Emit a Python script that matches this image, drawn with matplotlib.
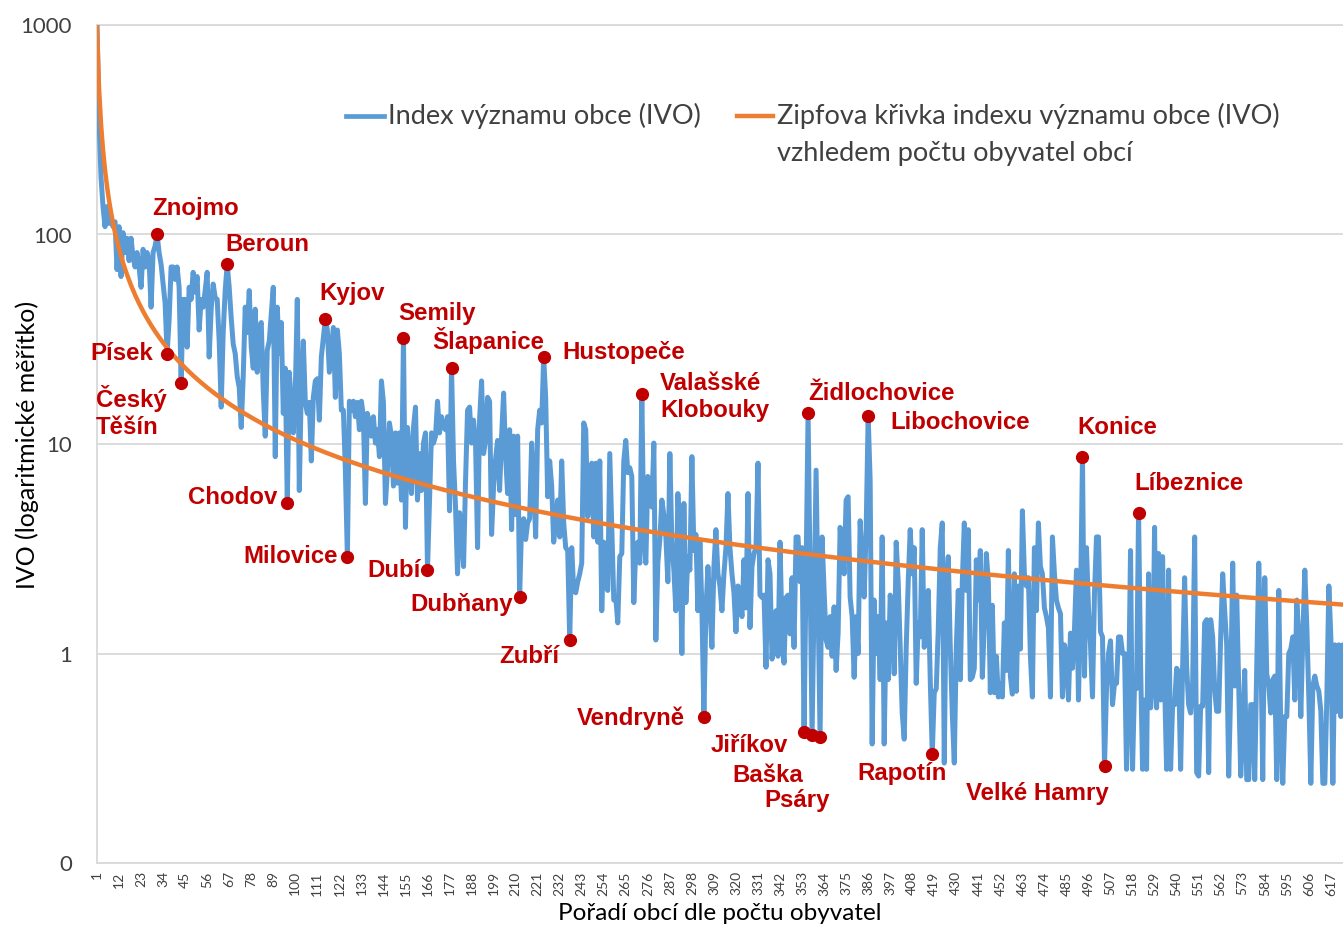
import matplotlib
matplotlib.use('Agg')
import matplotlib.pyplot as plt
from matplotlib.lines import Line2D
from matplotlib.ticker import FixedLocator, NullLocator
import numpy as np

# ---------------- data ----------------
ivo = [
    1000, 352, 188, 136, 109, 136, 113, 117, 109, 115,
    68, 109, 63, 102, 82, 96, 75, 96, 78, 70,
    82, 70, 56, 85, 70, 82, 75, 45, 82, 88,
    100, 82, 72, 58, 47, 27, 39, 70, 70, 61,
    70, 56, 19.5, 49, 49, 29, 56, 49, 66, 53,
    63, 35, 49, 45, 54, 66, 26, 44, 58, 50,
    49, 31, 15, 34, 54, 72, 56, 40, 30, 27,
    21, 18.6, 12, 21, 45, 34, 54, 29, 23, 44,
    22, 36, 38, 18, 10.9, 28, 31, 42, 56, 8.7,
    45, 27, 38, 14, 23, 5.2, 22, 16, 11.3, 18,
    49, 6.0, 18.6, 31, 15.8, 14, 15.8, 8.3, 16.7, 20,
    20.5, 13, 26, 32, 39.5, 35, 22, 28, 36, 16.7,
    35, 27, 14.5, 14.5, 7.5, 2.9, 16, 14.5, 16, 13.5,
    15.8, 11.7, 16, 13.5, 5.2, 14, 12.6, 10.9, 13.5, 10.1,
    11.7, 8.7, 20, 15.8, 5.2, 7.5, 12.6, 10.9, 6.3, 11.3,
    6.5, 11.3, 5.4, 32, 4.0, 12, 9.0, 5.8, 12, 15,
    5.4, 9.0, 6.0, 10.1, 11.3, 2.5, 5.4, 11.3, 10.1, 10.9,
    16, 11.3, 13.5, 12, 11.7, 13.5, 4.8, 23, 8.3, 5.0,
    2.4, 4.7, 4.0, 2.6, 6.7, 14.5, 15, 10.1, 13, 10.1,
    3.2, 13, 20, 9.0, 10.4, 16.7, 16, 3.7, 6.3, 8.5,
    10.4, 6.0, 10.9, 17.5, 8.7, 5.8, 11.7, 3.9, 10.9, 4.6,
    10.9, 1.86, 4.2, 4.4, 3.5, 4.2, 4.4, 10.1, 6.7, 3.6,
    11.7, 14.5, 12.6, 26, 16.7, 5.6, 8.3, 6.3, 3.4, 4.2,
    5.4, 3.6, 8.3, 4.2, 3.2, 3.1, 1.16, 3.2, 2.0, 1.95,
    2.2, 2.4, 2.7, 12.6, 11.7, 4.5, 6.9, 8.1, 3.6, 8.1,
    3.4, 8.3, 1.6, 3.4, 2.1, 2.0, 9.0, 4.0, 1.8, 1.85,
    1.40, 2.9, 3.0, 8.3, 10.4, 7.3, 7.7, 7.0, 1.75, 3.2,
    3.4, 2.7, 17.3, 3.6, 2.7, 7.0, 5.6, 5.0, 10.1, 1.16,
    2.7, 3.5, 5.4, 4.6, 3.6, 2.2, 9.0, 3.4, 2.5, 1.6,
    5.8, 3.5, 1.0, 5.2, 1.75, 2.9, 2.5, 8.7, 3.1, 3.7,
    1.6, 3.4, 1.65, 0.5, 1.6, 2.6, 1.7, 1.07, 2.6, 3.9,
    2.4, 2.1, 1.6, 2.4, 3.2, 5.8, 3.2, 2.4, 1.95, 1.27,
    2.1, 1.85, 1.5, 2.8, 1.65, 5.8, 1.33, 2.6, 3.0, 3.2,
    8.1, 1.9, 1.85, 1.9, 0.86, 2.8, 2.4, 0.94, 1.27, 1.6,
    0.97, 3.4, 1.27, 0.9, 1.85, 1.9, 1.24, 2.3, 1.07, 3.6,
    3.6, 2.2, 3.2, 0.42, 2.4, 14, 2.4, 0.41, 1.75, 7.5,
    1.7, 0.40, 3.6, 2.0, 1.16, 1.07, 1.5, 0.97, 1.67, 0.83,
    1.25, 4.0, 3.2, 2.4, 5.4, 5.6, 1.86, 1.5, 0.77, 1.5,
    1.0, 4.3, 2.7, 1.86, 3.9, 13.6, 6.7, 0.37, 1.8, 1.0,
    1.5, 0.75, 3.6, 0.37, 1.4, 0.75, 1.9, 1.5, 0.8, 3.4,
    2.2, 1.07, 0.52, 0.39, 1.07, 2.2, 3.9, 2.4, 3.2, 0.72,
    1.4, 1.2, 3.9, 1.07, 1.67, 2.0, 0.75, 0.33, 0.65, 0.68,
    1.3, 3.2, 4.2, 0.30, 2.2, 2.9, 1.07, 0.52, 0.30, 1.07,
    2.0, 0.75, 2.2, 4.2, 2.0, 3.9, 0.75, 0.77, 0.85, 2.8,
    1.8, 3.1, 0.77, 1.4, 3.0, 2.2, 0.65, 1.7, 0.65, 0.97,
    0.62, 0.72, 0.62, 1.40, 0.83, 3.1, 0.78, 0.64, 2.4, 0.66,
    2.1, 1.05, 4.8, 2.4, 2.1, 2.3, 0.97, 0.62, 3.2, 1.6,
    4.2, 2.6, 2.4, 1.65, 1.5, 1.32, 0.62, 3.6, 2.4, 1.8,
    1.65, 1.55, 0.62, 1.1, 0.97, 0.6, 1.25, 0.85, 1.3, 2.5,
    0.6, 1.65, 8.7, 0.78, 3.2, 1.65, 1.1, 0.62, 1.95, 3.6,
    3.6, 1.27, 1.2, 0.29, 0.68, 1.0, 1.15, 0.57, 0.72, 0.72,
    1.2, 1.2, 1.0, 1.0, 0.28, 0.62, 3.1, 0.28, 0.72, 0.68,
    4.7, 0.9, 0.28, 0.6, 0.28, 2.4, 0.55, 0.72, 4.0, 0.55,
    3.0, 0.6, 2.9, 0.72, 0.28, 2.5, 0.28, 0.57, 0.57, 0.85,
    0.82, 0.28, 0.87, 2.3, 0.87, 0.57, 0.52, 0.72, 3.6, 0.27,
    0.26, 0.56, 0.56, 1.4, 1.45, 0.27, 1.45, 1.2, 0.67, 0.53,
    0.53, 1.2, 2.4, 1.6, 1.1, 0.26, 0.67, 2.7, 0.7, 1.9,
    0.7, 0.26, 0.43, 0.83, 0.25, 0.25, 0.57, 0.57, 0.25, 0.87,
    2.7, 1.2, 0.25, 2.3, 0.8, 0.7, 0.52, 0.75, 0.78, 0.25,
    2.0, 0.43, 0.24, 0.5, 0.5, 1.0, 1.05, 1.2, 0.6, 1.8,
    1.2, 0.5, 1.2, 2.5, 1.35, 0.62, 0.24, 0.7, 0.78, 0.7,
    0.66, 0.53, 0.24, 0.24, 0.62, 2.1, 1.2, 0.24, 1.1, 0.53,
    1.1, 0.5, 1.1, 0.7,
]

zipf_top = 1000.0
zipf_exponent = 0.99

x_tick_labels = [1, 12, 23, 34, 45, 56, 67, 78, 89, 100, 111, 122, 133, 144,
                 155, 166, 177, 188, 199, 210, 221, 232, 243, 254, 265, 276,
                 287, 298, 309, 320, 331, 342, 353, 364, 375, 386, 397, 408,
                 419, 430, 441, 452, 463, 474, 485, 496, 507, 518, 529, 540,
                 551, 562, 573, 584, 595, 606, 617]
y_ticks = [0.1, 1, 10, 100, 1000]
y_tick_labels = ['0', '1', '10', '100', '1000']

highlight_names = ['Znojmo', 'Beroun', 'Písek', 'Český\nTěšín', 'Kyjov', 'Semily',
                   'Šlapanice', 'Hustopeče', 'Valašské\nKlobouky', 'Židlochovice',
                   'Libochovice', 'Konice', 'Líbeznice', 'Chodov', 'Milovice',
                   'Dubí', 'Dubňany', 'Zubří', 'Vendryně', 'Jiříkov', 'Baška',
                   'Psáry', 'Rapotín', 'Velké Hamry']
highlight_ranks = [31, 66, 36, 43, 115, 154, 178, 224, 273, 356, 386, 493, 521,
                   96, 126, 166, 212, 237, 304, 354, 358, 362, 418, 504]

# label placement (figure pixels from top-left: left edge, vertical centre)
label_pos = [(152, 208), (225, 244), (90, 353), (96, 412), (319, 293), (398, 313),
             (432, 340), (562, 352), (660, 397), (808, 393), (890, 422), (1077, 427),
             (1134, 483), (188, 497), (243, 556), (367, 570), (410, 604), (499, 656),
             (577, 718), (711, 745), (732, 775), (764, 800), (857, 773), (966, 793)]

# ---------------- figure ----------------
W, H = 1343, 930
fig = plt.figure(figsize=(W / 100, H / 100), dpi=100)
fig.patch.set_facecolor('white')

ax_left, ax_right, ax_top, ax_bottom = 97, W, 25, 863
ax = fig.add_axes([ax_left / W, (H - ax_bottom) / H,
                   (ax_right - ax_left) / W, (ax_bottom - ax_top) / H])

ranks = np.arange(1, len(ivo) + 1)
ivo_arr = np.array(ivo, dtype=float)
zipf = zipf_top / ranks.astype(float) ** zipf_exponent

BLUE = '#5B9BD5'
ORANGE = '#ED7D31'
RED = '#C00000'
TXT = '#404040'

ax.plot(ranks, ivo_arr, color=BLUE, lw=3.6, solid_joinstyle='round',
        solid_capstyle='round', zorder=3)
ax.plot(ranks, zipf, color=ORANGE, lw=3.2, zorder=4)

hr = np.array(highlight_ranks)
ax.plot(hr, ivo_arr[hr - 1], 'o', color=RED, ms=8.5, mec=RED, zorder=5,
        clip_on=False)

for name, r, (px, py) in zip(highlight_names, highlight_ranks, label_pos):
    ax.annotate(name, xy=(r, ivo_arr[r - 1]), xytext=(px, H - py),
                textcoords='figure pixels', ha='left', va='center',
                fontsize=17.3, fontweight='bold', color=RED,
                family='Liberation Sans', linespacing=1.25, zorder=6)

ax.set_yscale('log')
ax.set_ylim(0.1, 1000)
ax.set_xlim(1, 1 + (ax_right - ax_left) / 2.003)

ax.yaxis.set_major_locator(FixedLocator(y_ticks))
ax.yaxis.set_minor_locator(NullLocator())
ax.set_yticklabels(y_tick_labels)
ax.set_xticks(x_tick_labels)
ax.set_xticklabels([str(v) for v in x_tick_labels], rotation=90)

ax.tick_params(axis='y', length=0, pad=18, labelsize=16, labelcolor=TXT)
ax.tick_params(axis='x', length=0, pad=6, labelsize=10, labelcolor=TXT)
for lbl in ax.get_yticklabels() + ax.get_xticklabels():
    lbl.set_family('Lato')

ax.yaxis.grid(True, color='#D9D9D9', lw=1.3, zorder=0)
ax.set_axisbelow(True)
for s in ['left', 'bottom', 'top']:
    ax.spines[s].set_color('#D9D9D9')
    ax.spines[s].set_linewidth(1.3)
ax.spines['right'].set_visible(False)

# axis titles
fig.text(27 / W, 1 - 445 / H, 'IVO (logaritmické měřítko)', rotation=90,
         ha='center', va='center', fontsize=18, family='Lato', color='#000000')
fig.text(720 / W, 1 - 913 / H, 'Pořadí obcí dle počtu obyvatel',
         ha='center', va='center', fontsize=17.5, family='Lato', color='#000000')

# legend
fig.add_artist(Line2D([346 / W, 384 / W], [1 - 116 / H] * 2, color=BLUE, lw=3.4))
fig.text(388 / W, 1 - 116 / H, 'Index významu obce (IVO)', ha='left', va='center',
         fontsize=19.5, family='Lato', color=TXT)
fig.add_artist(Line2D([737 / W, 773 / W], [1 - 116 / H] * 2, color=ORANGE, lw=3.2))
fig.text(777 / W, 1 - 116 / H, 'Zipfova křivka indexu významu obce (IVO)',
         ha='left', va='center', fontsize=19.5, family='Lato', color=TXT)
fig.text(777 / W, 1 - 153 / H, 'vzhledem počtu obyvatel obcí',
         ha='left', va='center', fontsize=19.5, family='Lato', color=TXT)

fig.savefig('out.png', dpi=100)
